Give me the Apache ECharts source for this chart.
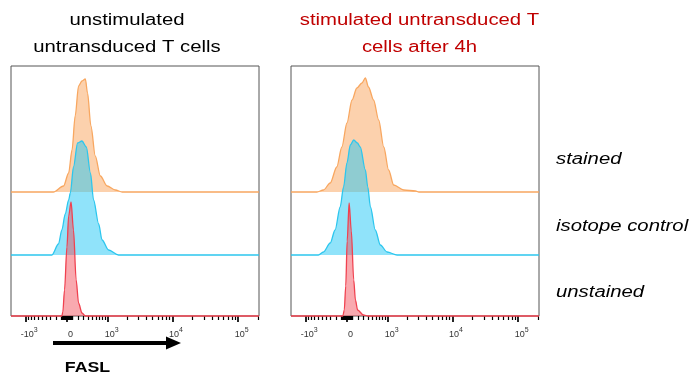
<!DOCTYPE html>
<html>
  <head>
    <meta charset="utf-8" />
    <title>FASL histograms</title>
    <script src="https://cdn.jsdelivr.net/npm/echarts@6/dist/echarts.min.js"></script>
    <style>
      html, body { margin: 0; padding: 0; background: #fff; }
    </style>
  </head>
  <body>
    <div id="chart" style="width: 693px; height: 376px"></div>

    <script type="text/javascript">
// Histograms are in display channels (0..1024 on the biexponential FASL axis),
// heights are counts (same units for every track).

// unstimulated untransduced T cells
const unstimStainedX = [175, 217, 238, 252, 265, 279, 293, 307, 316, 330, 348, 369, 397, 431, 459];
const unstimStainedY = [0, 6, 19, 42, 76, 106, 111, 113, 99, 66, 36, 16, 6, 2, 0];
const unstimIsotypeX = [169, 196, 210, 224, 238, 245, 258, 275, 293, 311, 328, 341, 362, 376, 403, 444];
const unstimIsotypeY = [0, 11, 25, 41, 55, 62, 88, 112, 114, 108, 82, 55, 31, 15, 5, 0];
const unstimUnstainedX = [210, 214, 221, 231, 238, 248, 258, 269, 279, 293, 307];
const unstimUnstainedY = [0, 4, 26, 69, 100, 114, 86, 36, 13, 3, 0];

// stimulated untransduced T cells after 4h
const stimStainedX = [107, 134, 162, 189, 210, 231, 252, 272, 293, 307, 320, 341, 362, 383, 403, 424, 466, 514, 528];
const stimStainedY = [0, 2, 9, 25, 45, 69, 92, 104, 109, 114, 105, 92, 72, 45, 22, 7, 2, 1, 0];
const stimIsotypeX = [113, 134, 162, 182, 203, 217, 231, 245, 259, 274, 286, 307, 317, 328, 348, 369, 397, 438];
const stimIsotypeY = [0, 3, 12, 25, 48, 68, 92, 110, 115, 112, 108, 85, 68, 48, 25, 10, 3, 0];
const stimUnstainedX = [214, 220, 226, 232, 240, 249, 259, 266, 275, 299, 319];
const stimUnstainedY = [0, 6, 30, 75, 113, 85, 36, 16, 6, 1, 0];

// axis ticks (fluorescence values)
const majorTicks = [-1000, 0, 1000, 10000, 100000];
const tickLabels = ['-10{s|3}', '0', '10{s|3}', '10{s|4}', '10{s|5}'];

const panelTitles = ['unstimulated\nuntransduced T cells', 'stimulated untransduced T\ncells after 4h'];
const trackNames = ['stained', 'isotope control', 'unstained'];

/// Configuration
const CH_MAX = 1024;
const ZERO_CH = 231;
const W_SCALE = 500;
const GAIN = 118;
const Y_MAX = 250;
const baselines = [124, 61, 0]; // stained, isotype, unstained
const lineColors = ['#f8a760', '#2cc6ee', '#f0414f'];
const fillColors = ['rgba(249,164,92,0.5)', 'rgba(34,200,245,0.5)', 'rgba(242,64,78,0.45)'];
const FONT = 'Liberation Sans, Arial, sans-serif';
const STRETCH = 1.27;

function toChannel(v) {
  return ZERO_CH + GAIN * Math.asinh(v / W_SCALE);
}

const minorValues = [];
for (let d = 10; d < 100; d += 10) { minorValues.push(-d, d); }
for (let d = 100; d < 1000; d += 100) { minorValues.push(-d, d); }
for (let d = 2000; d < 10000; d += 1000) { minorValues.push(d); }
for (let d = 20000; d < 100000; d += 10000) { minorValues.push(d); }
minorValues.push(200000);

const majorPos = majorTicks.map(toChannel);
const minorPos = minorValues.map(toChannel).filter((c) => c > 0 && c < CH_MAX);

const panels = [
  { left: 11, xs: [unstimStainedX, unstimIsotypeX, unstimUnstainedX], ys: [unstimStainedY, unstimIsotypeY, unstimUnstainedY] },
  { left: 291, xs: [stimStainedX, stimIsotypeX, stimUnstainedX], ys: [stimStainedY, stimIsotypeY, stimUnstainedY] },
];

const grids = [];
const xAxes = [];
const yAxes = [];
const series = [];

panels.forEach(function (p, pi) {
  grids.push({
    left: p.left, top: 66, width: 248, height: 250,
    show: true, borderColor: '#555', borderWidth: 1, backgroundColor: 'transparent'
  });
  // major ticks + labels
  xAxes.push({
    type: 'value', gridIndex: pi, min: 0, max: CH_MAX, position: 'bottom',
    axisLine: { show: false },
    splitLine: { show: false },
    axisTick: { show: true, length: 6, customValues: majorPos, lineStyle: { color: '#000', width: 1.7 } },
    axisLabel: {
      show: true,
      customValues: majorPos,
      margin: 11,
      padding: [0, 0, 0, 7],
      color: '#333',
      fontFamily: FONT,
      formatter: function (val) {
        let best = 0;
        majorPos.forEach(function (c, i) {
          if (Math.abs(c - val) < Math.abs(majorPos[best] - val)) best = i;
        });
        return tickLabels[best];
      },
      rich: {
        s: { fontSize: 7, lineHeight: 7, verticalAlign: 'top', color: '#333', fontFamily: FONT }
      },
      fontSize: 9,
      lineHeight: 15
    }
  });
  // minor ticks
  xAxes.push({
    type: 'value', gridIndex: pi, min: 0, max: CH_MAX, position: 'bottom', offset: 0,
    axisLine: { show: false },
    splitLine: { show: false },
    axisTick: { show: true, length: 4, customValues: minorPos, lineStyle: { color: '#000', width: 1.2 } },
    axisLabel: { show: false }
  });
  yAxes.push({ type: 'value', gridIndex: pi, min: 0, max: Y_MAX, show: false });

  p.xs.forEach(function (xs, ti) {
    const base = baselines[ti];
    const data = [[0, base]];
    xs.forEach(function (x, i) { data.push([x, base + p.ys[ti][i]]); });
    data.push([CH_MAX, base]);
    series.push({
      name: trackNames[ti],
      type: 'line',
      xAxisIndex: pi * 2,
      yAxisIndex: pi,
      data: data,
      showSymbol: false,
      smooth: 0.3,
      smoothMonotone: 'x',
      clip: false,
      silent: true,
      z: 2 + ti,
      lineStyle: { color: lineColors[ti], width: 1.3 },
      areaStyle: { color: fillColors[ti], origin: base, opacity: 1 }
    });
  });
});

const graphics = [
  {
    type: 'text', x: 127, y: 34.5, scaleX: STRETCH,
    style: { text: panelTitles[0], fontSize: 16, lineHeight: 27, fontFamily: FONT, fill: '#000', align: 'center', verticalAlign: 'middle' }
  },
  {
    type: 'text', x: 419.5, y: 34.5, scaleX: STRETCH,
    style: { text: panelTitles[1], fontSize: 16, lineHeight: 27, fontFamily: FONT, fill: '#c00000', align: 'center', verticalAlign: 'middle' }
  },
  {
    type: 'text', x: 87.5, y: 368, scaleX: STRETCH,
    style: { text: 'FASL', fontSize: 14, fontWeight: 'bold', fontFamily: FONT, fill: '#000', align: 'center', verticalAlign: 'middle' }
  },
  {
    type: 'line', shape: { x1: 53, y1: 343, x2: 168, y2: 343 },
    style: { stroke: '#000', lineWidth: 4 }
  },
  {
    type: 'polygon', shape: { points: [[166, 336.5], [181, 343], [166, 349.5]] },
    style: { fill: '#000' }
  }
];
const labelY = [160, 227, 293];
trackNames.forEach(function (name, i) {
  graphics.push({
    type: 'text', x: 556, y: labelY[i], scaleX: STRETCH,
    style: { text: name, fontSize: 16, fontStyle: 'italic', fontFamily: FONT, fill: '#000', align: 'left', verticalAlign: 'middle' }
  });
});

const option = {
  animation: false,
  backgroundColor: '#fff',
  grid: grids,
  xAxis: xAxes,
  yAxis: yAxes,
  series: series,
  graphic: graphics
};

const chart = echarts.init(document.getElementById('chart'));
chart.setOption(option);
    </script>
  </body>
</html>
